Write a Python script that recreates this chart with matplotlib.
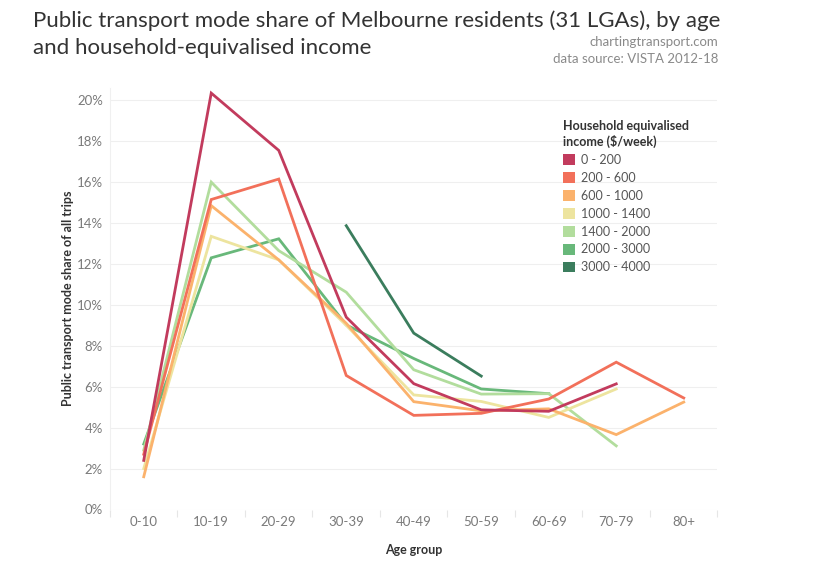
import matplotlib
matplotlib.use('Agg')
import matplotlib.pyplot as plt
from matplotlib.patches import Patch
import numpy as np

plt.rcParams['font.family'] = ['Lato', 'DejaVu Sans']

# Data (public transport mode share, %)
age_groups = ['0-10', '10-19', '20-29', '30-39', '40-49', '50-59', '60-69', '70-79', '80+']
income_bands = ['0 - 200', '200 - 600', '600 - 1000', '1000 - 1400',
                '1400 - 2000', '2000 - 3000', '3000 - 4000']
nan = np.nan
share_0_200 = [2.4, 20.35, 17.55, 9.4, 6.15, 4.87, 4.8, 6.14, nan]
share_200_600 = [2.7, 15.15, 16.15, 6.55, 4.6, 4.7, 5.4, 7.2, 5.45]
share_600_1000 = [1.6, 14.85, 12.2, 9.1, 5.27, 4.82, 4.92, 3.66, 5.25]
share_1000_1400 = [2.0, 13.35, 12.2, 9.0, 5.6, 5.28, 4.5, 5.89, nan]
share_1400_2000 = [2.9, 16.0, 12.65, 10.62, 6.83, 5.64, 5.66, 3.11, nan]
share_2000_3000 = [3.2, 12.3, 13.23, 9.02, 7.38, 5.89, 5.66, nan, nan]
share_3000_4000 = [nan, nan, nan, 13.87, 8.62, 6.52, nan, nan, nan]

colours = ['#c23b5d', '#f2705a', '#fbb26c', '#ede49f', '#b2dd9d', '#68b87a', '#3b7d5d']
series = [share_0_200, share_200_600, share_600_1000, share_1000_1400,
          share_1400_2000, share_2000_3000, share_3000_4000]

W, H = 829, 579
fig = plt.figure(figsize=(W / 100, H / 100), dpi=100)

# plot area in pixels
left, right, top, bottom = 110, 717.5, 88, 509.5
ax = fig.add_axes([left / W, 1 - bottom / H, (right - left) / W, (bottom - top) / H])

x = np.arange(len(age_groups))
for i in range(len(series) - 1, -1, -1):
    ax.plot(x, series[i], color=colours[i], lw=2.0, solid_joinstyle='miter', zorder=3 + (6 - i))

ax.set_xlim(-0.5, len(age_groups) - 0.5)
ax.set_ylim(0, 20.6)

ax.set_yticks(np.arange(0, 21, 2))
ax.set_yticklabels(['%d%%' % v for v in range(0, 21, 2)])
ax.set_xticks(x)
ax.set_xticklabels(age_groups)
ax.set_xticks(np.arange(-0.5, len(age_groups), 1), minor=True)

ax.grid(axis='y', color='#efefef', lw=0.8)
ax.set_axisbelow(True)
for s in ['top', 'right', 'bottom']:
    ax.spines[s].set_visible(False)
ax.spines['left'].set_color('#f0f0f0')
ax.tick_params(axis='y', length=0, labelsize=9.5, labelcolor='#7a7a7a', pad=5)
ax.tick_params(axis='x', which='major', length=0, labelsize=9.5, labelcolor='#7a7a7a', pad=5)
ax.tick_params(axis='x', which='minor', length=5, color='#e6e6e6', width=0.8)

ax.set_ylabel('Public transport mode share of all trips', fontsize=9, color='#333333',
              fontweight='bold', labelpad=2)
ax.set_xlabel('Age group', fontsize=9, color='#333333', fontweight='bold', labelpad=11)

# titles
fig.text(33 / W, 1 - 21 / H, 'Public transport mode share of Melbourne residents (31 LGAs), by age',
         fontsize=16, color='#333333', va='center', ha='left')
fig.text(33 / W, 1 - 48 / H, 'and household-equivalised income',
         fontsize=16, color='#333333', va='center', ha='left')
fig.text(718 / W, 1 - 42 / H, 'chartingtransport.com', fontsize=9.5, color='#8a8a8a',
         va='center', ha='right')
fig.text(718 / W, 1 - 59 / H, 'data source: VISTA 2012-18', fontsize=9.5, color='#8a8a8a',
         va='center', ha='right')

handles = [Patch(facecolor=c, edgecolor='none', label=l) for c, l in zip(colours, income_bands)]
leg = ax.legend(handles=handles, title='Household equivalised\nincome ($/week)',
                loc='upper left', bbox_to_anchor=(559 / W, 1 - 116 / H),
                bbox_transform=fig.transFigure, frameon=False, fontsize=9,
                title_fontsize=9, handlelength=0.95, handleheight=0.95,
                handletextpad=0.55, labelspacing=0.47, borderaxespad=0, borderpad=0.3)
leg.get_title().set_fontweight('bold')
leg.get_title().set_color('#333333')
leg.get_title().set_linespacing(1.3)
leg._legend_box.align = 'left'
for t in leg.get_texts():
    t.set_color('#555555')

fig.savefig('out.png', dpi=100, facecolor='white')
